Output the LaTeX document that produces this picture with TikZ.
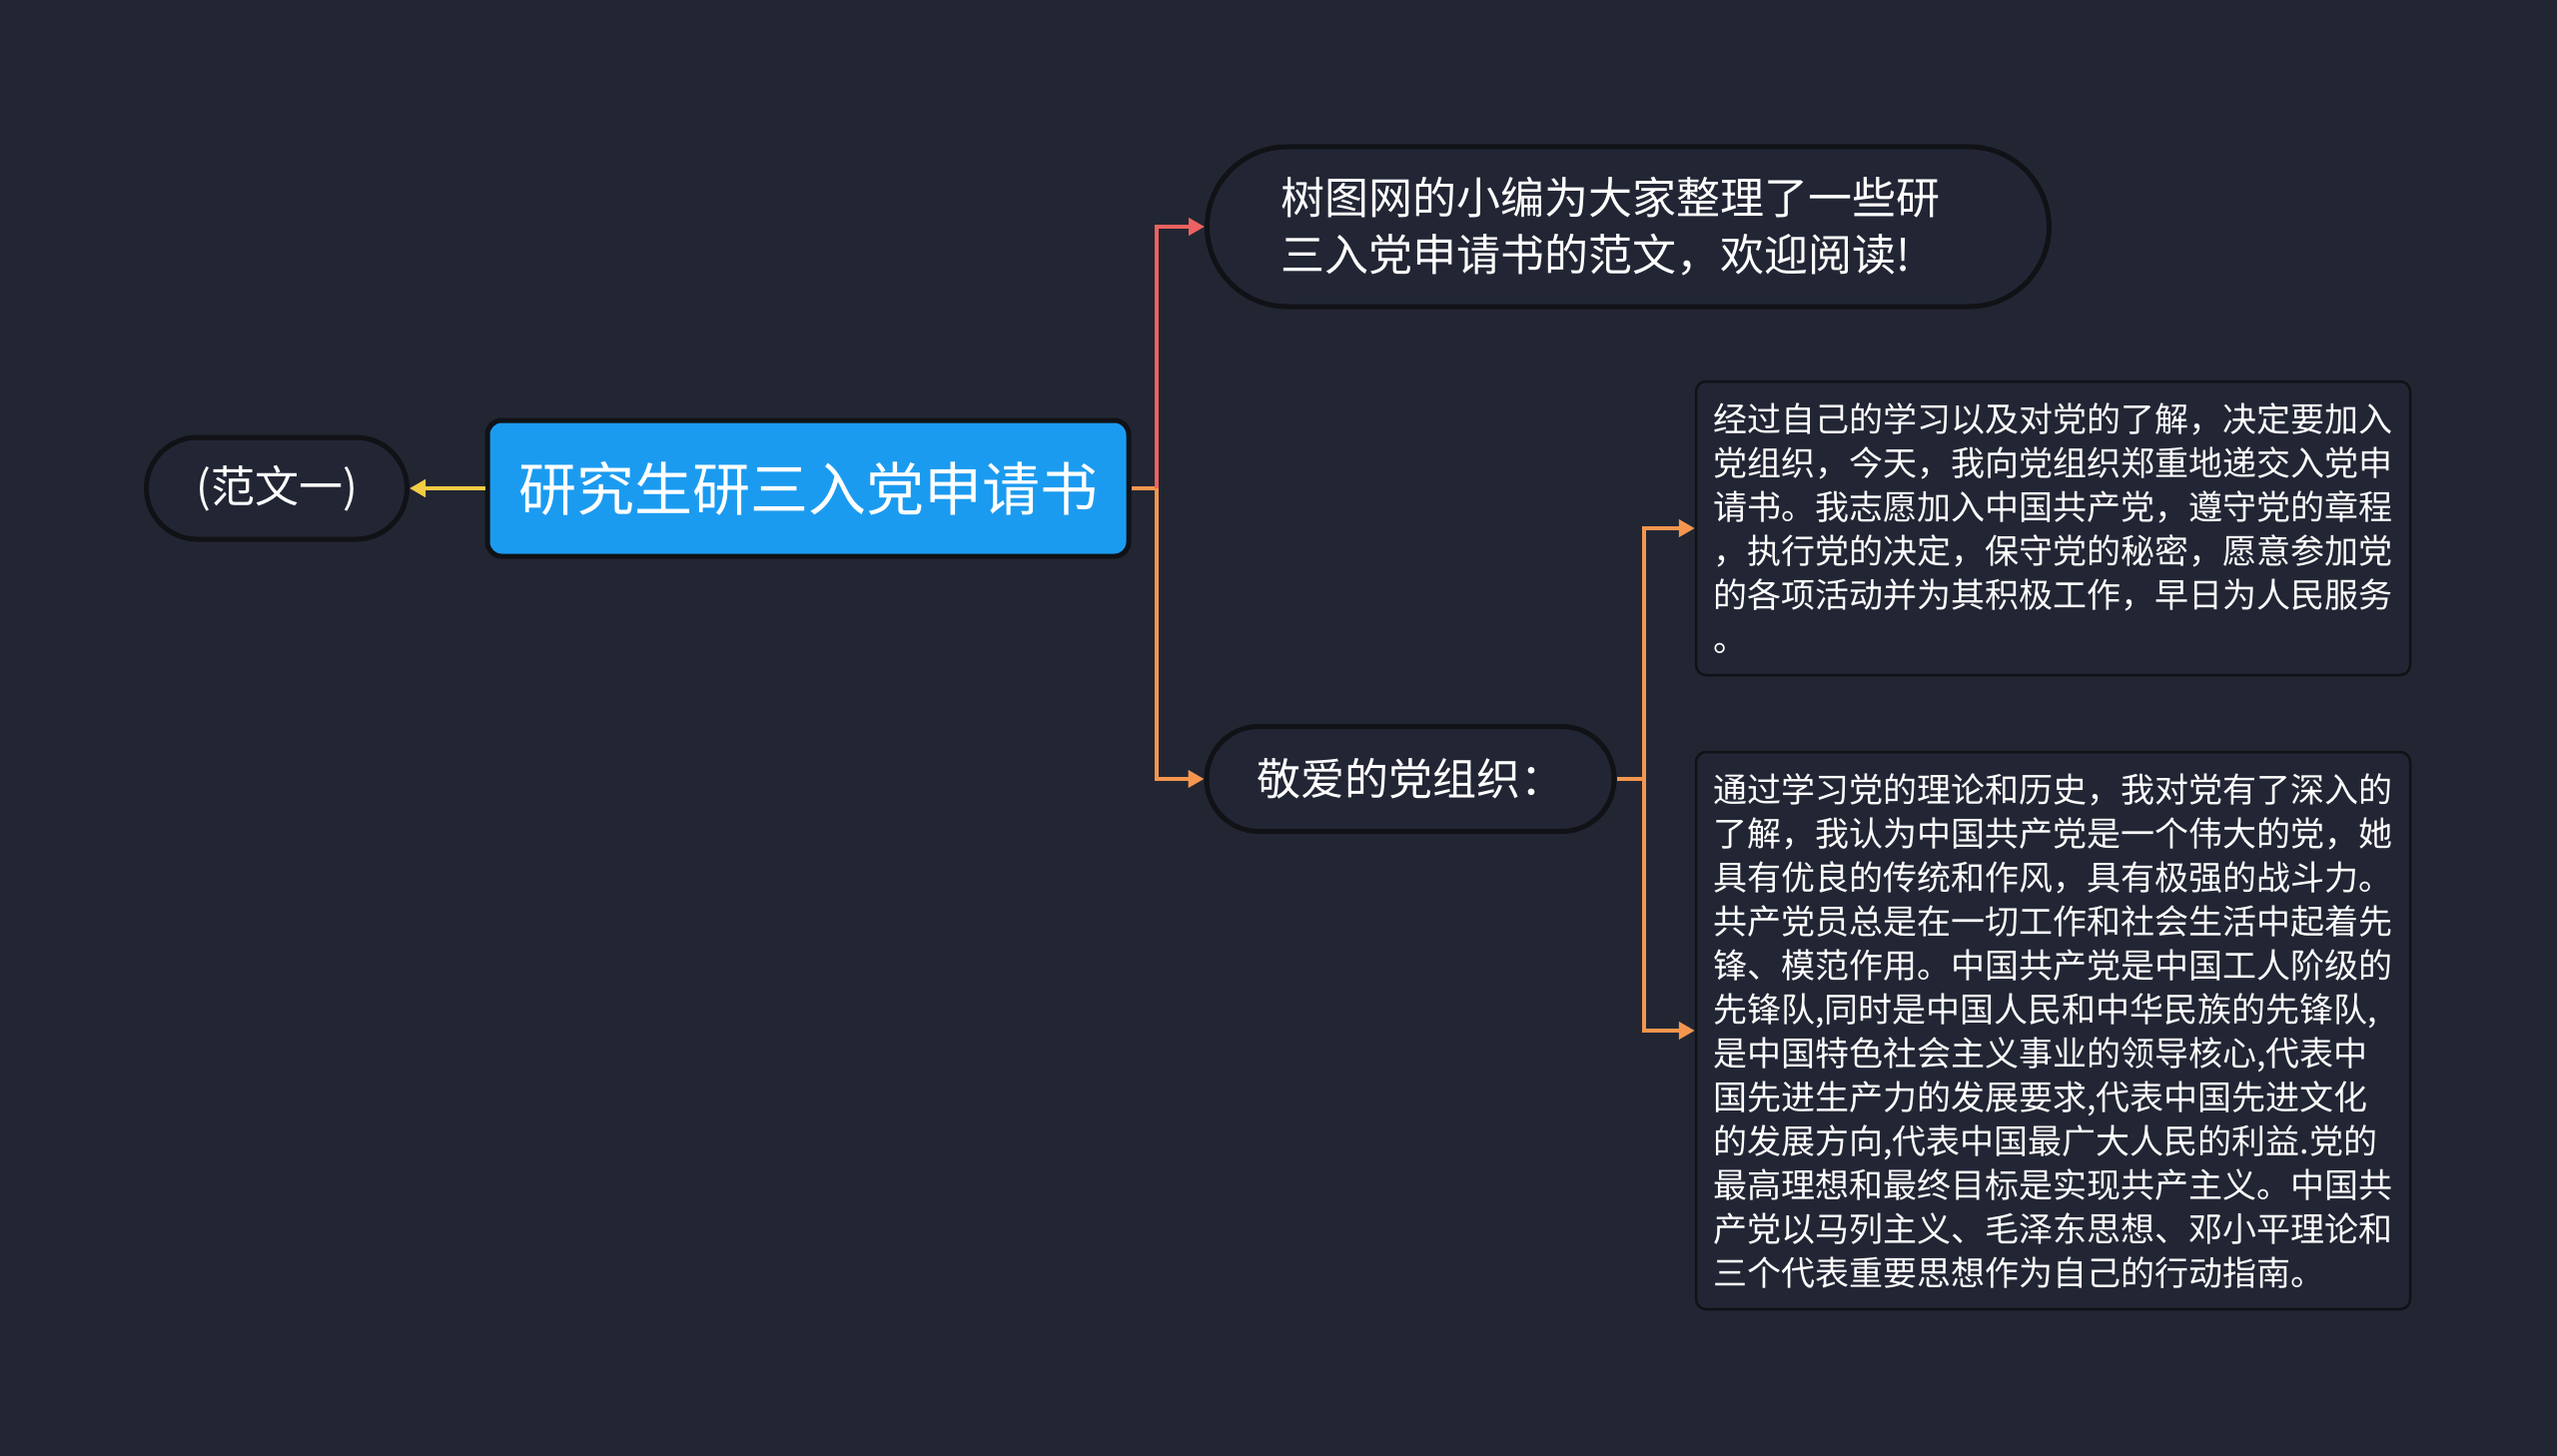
\documentclass[tikz,border=0pt]{standalone}
\usepackage{fontspec}
\setmainfont{Noto Sans CJK SC}
\usetikzlibrary{arrows.meta}
\definecolor{bg}{HTML}{222633}
\definecolor{nodebg}{HTML}{222634}
\definecolor{edge}{HTML}{101216}
\definecolor{rootblue}{HTML}{1B9BF0}
\definecolor{linered}{HTML}{EC6260}
\definecolor{lineorange}{HTML}{F5964F}
\definecolor{lineyellow}{HTML}{F6CB45}
\tikzset{
  pill/.style={draw=edge, line width=5pt, fill=nodebg, text=white, inner sep=0pt, align=left, font=\fontsize{44}{57}\selectfont},
  rootbox/.style={draw=edge, line width=5pt, fill=rootblue, text=white, inner sep=0pt, rounded corners=14pt, font=\fontsize{58}{70}\selectfont},
  textbox/.style={draw=edge, line width=2.5pt, fill=nodebg, text=white, inner sep=0pt, rounded corners=10pt, align=left, font=\fontsize{34}{44}\selectfont},
  conn/.style={line width=4pt},
  tipconn/.style={line width=4pt, -{Triangle[length=16pt,width=17pt]}},
}
\begin{document}
\begin{tikzpicture}[x=1pt,y=-1pt]
\fill[bg] (0,0) rectangle (2560,1458);
\useasboundingbox (0,0) rectangle (2560,1458);

\node[rootbox, minimum width=642pt, minimum height=136pt] (root) at (809,489)
  {研究生研三入党申请书};
\node[pill, rounded corners=51pt, minimum width=261pt, minimum height=102pt] (fan) at (277,489)
  {(范文一)};
\node[pill, rounded corners=80pt, minimum width=843pt, minimum height=160pt] (top) at (1630,227)
  {树图网的小编为大家整理了一些研\hspace*{36pt}\\ 三入党申请书的范文，欢迎阅读!};
\node[pill, rounded corners=52pt, minimum width=408pt, minimum height=105pt] (jing) at (1412,780)
  {敬爱的党组织：};
\node[textbox, minimum width=715pt, minimum height=294pt] (box1) at (2055.5,529)
  {经过自己的学习以及对党的了解，决定要加入\\
  党组织，今天，我向党组织郑重地递交入党申\\
  请书。我志愿加入中国共产党，遵守党的章程\\
  ，执行党的决定，保守党的秘密，愿意参加党\\
  的各项活动并为其积极工作，早日为人民服务\\
  。};
\node[textbox, minimum width=715pt, minimum height=558pt] (box2) at (2055.5,1032)
  {通过学习党的理论和历史，我对党有了深入的\\
  了解，我认为中国共产党是一个伟大的党，她\\
  具有优良的传统和作风，具有极强的战斗力。\\
  共产党员总是在一切工作和社会生活中起着先\\
  锋、模范作用。中国共产党是中国工人阶级的\\
  先锋队,同时是中国人民和中华民族的先锋队,\\
  是中国特色社会主义事业的领导核心,代表中\\
  国先进生产力的发展要求,代表中国先进文化\\
  的发展方向,代表中国最广大人民的利益.党的\\
  最高理想和最终目标是实现共产主义。中国共\\
  产党以马列主义、毛泽东思想、邓小平理论和\\
  三个代表重要思想作为自己的行动指南。};

\coordinate (e1) at (1158,489);
\coordinate (e2) at (1646,780);

\draw[tipconn, lineyellow] (root.west) -- (fan.east);
\draw[conn, lineorange] (root.east) -- (e1);
\draw[tipconn, linered] (e1) |- (top.west);
\draw[tipconn, lineorange] (e1) |- (jing.west);
\draw[conn, lineorange] (jing.east) -- (e2);
\draw[tipconn, lineorange] (e2) |- (box1.west);
\draw[tipconn, lineorange] (e2) |- (box2.west);
\end{tikzpicture}
\end{document}
